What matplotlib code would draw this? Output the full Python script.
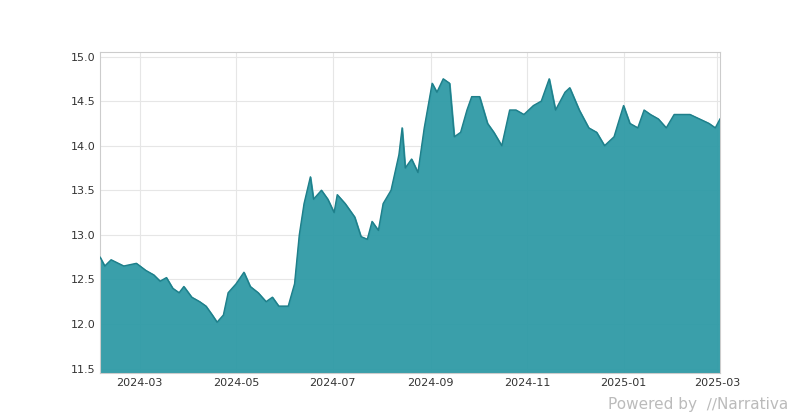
import matplotlib
matplotlib.use("Agg")
import matplotlib.pyplot as plt
import matplotlib.dates as mdates
import pandas as pd

dates = ["2024-02-05","2024-02-08","2024-02-12","2024-02-20","2024-02-28","2024-03-05","2024-03-10","2024-03-14","2024-03-18","2024-03-22","2024-03-26","2024-03-29",
"2024-04-03","2024-04-08","2024-04-12","2024-04-16","2024-04-19","2024-04-23","2024-04-26","2024-05-01","2024-05-06","2024-05-10","2024-05-15","2024-05-20","2024-05-24","2024-05-28",
"2024-06-03","2024-06-07","2024-06-10","2024-06-13","2024-06-17","2024-06-19","2024-06-24","2024-06-28","2024-07-02","2024-07-04","2024-07-09","2024-07-15","2024-07-19","2024-07-23","2024-07-26","2024-07-30",
"2024-08-02","2024-08-07","2024-08-12","2024-08-14","2024-08-16","2024-08-20","2024-08-24","2024-08-28","2024-09-02","2024-09-05","2024-09-09","2024-09-13","2024-09-16","2024-09-20","2024-09-24","2024-09-27",
"2024-10-02","2024-10-07","2024-10-11","2024-10-16","2024-10-21","2024-10-25","2024-10-30","2024-11-05","2024-11-10","2024-11-15","2024-11-19","2024-11-25","2024-11-28",
"2024-12-04","2024-12-10","2024-12-15","2024-12-20","2024-12-26","2025-01-01","2025-01-05","2025-01-10","2025-01-14","2025-01-18","2025-01-23","2025-01-28",
"2025-02-02","2025-02-07","2025-02-12","2025-02-18","2025-02-24","2025-02-28","2025-03-03"]
values = [12.75,12.65,12.72,12.65,12.68,12.6,12.55,12.48,12.52,12.4,12.35,12.42,
12.3,12.25,12.2,12.1,12.02,12.1,12.35,12.45,12.58,12.42,12.35,12.25,12.3,12.2,
12.2,12.45,13.0,13.35,13.65,13.4,13.5,13.4,13.25,13.45,13.35,13.2,12.98,12.95,13.15,13.05,
13.35,13.5,13.9,14.2,13.75,13.85,13.7,14.2,14.7,14.6,14.75,14.7,14.1,14.15,14.4,14.55,
14.55,14.25,14.15,14.0,14.4,14.4,14.35,14.45,14.5,14.75,14.4,14.6,14.65,
14.4,14.2,14.15,14.0,14.1,14.45,14.25,14.2,14.4,14.35,14.3,14.2,
14.35,14.35,14.35,14.3,14.25,14.2,14.3]
yticks = [11.5,12.0,12.5,13.0,13.5,14.0,14.5,15.0]

x = pd.to_datetime(dates)
fig = plt.figure(figsize=(8,4.2), dpi=100)
ax = fig.add_axes([0.125,0.112,0.775,0.764])
ymin = 11.45
ax.fill_between(x, values, ymin, color="#2f9aa6", alpha=0.95, zorder=2)
ax.plot(x, values, color="#1f7f8a", lw=1, zorder=3)
ax.set_ylim(ymin, 15.05)
ax.set_xlim(x[0], x[-1])
ax.set_yticks(yticks)
ax.set_yticklabels([f"{v:.1f}" for v in yticks])
ax.xaxis.set_major_locator(mdates.MonthLocator(bymonth=[1,3,5,7,9,11]))
ax.xaxis.set_major_formatter(mdates.DateFormatter("%Y-%m"))
ax.grid(True, color="#e6e6e6", lw=0.8, zorder=0)
ax.tick_params(labelsize=8, length=0, colors="#333333")
for s in ax.spines.values():
    s.set_color("#cccccc")
fig.text(0.985, 0.02, "Powered by  \u2215\u2215Narrativa", ha="right", va="bottom", fontsize=11, color="#bbbbbb")
fig.savefig("out.png", dpi=100)
